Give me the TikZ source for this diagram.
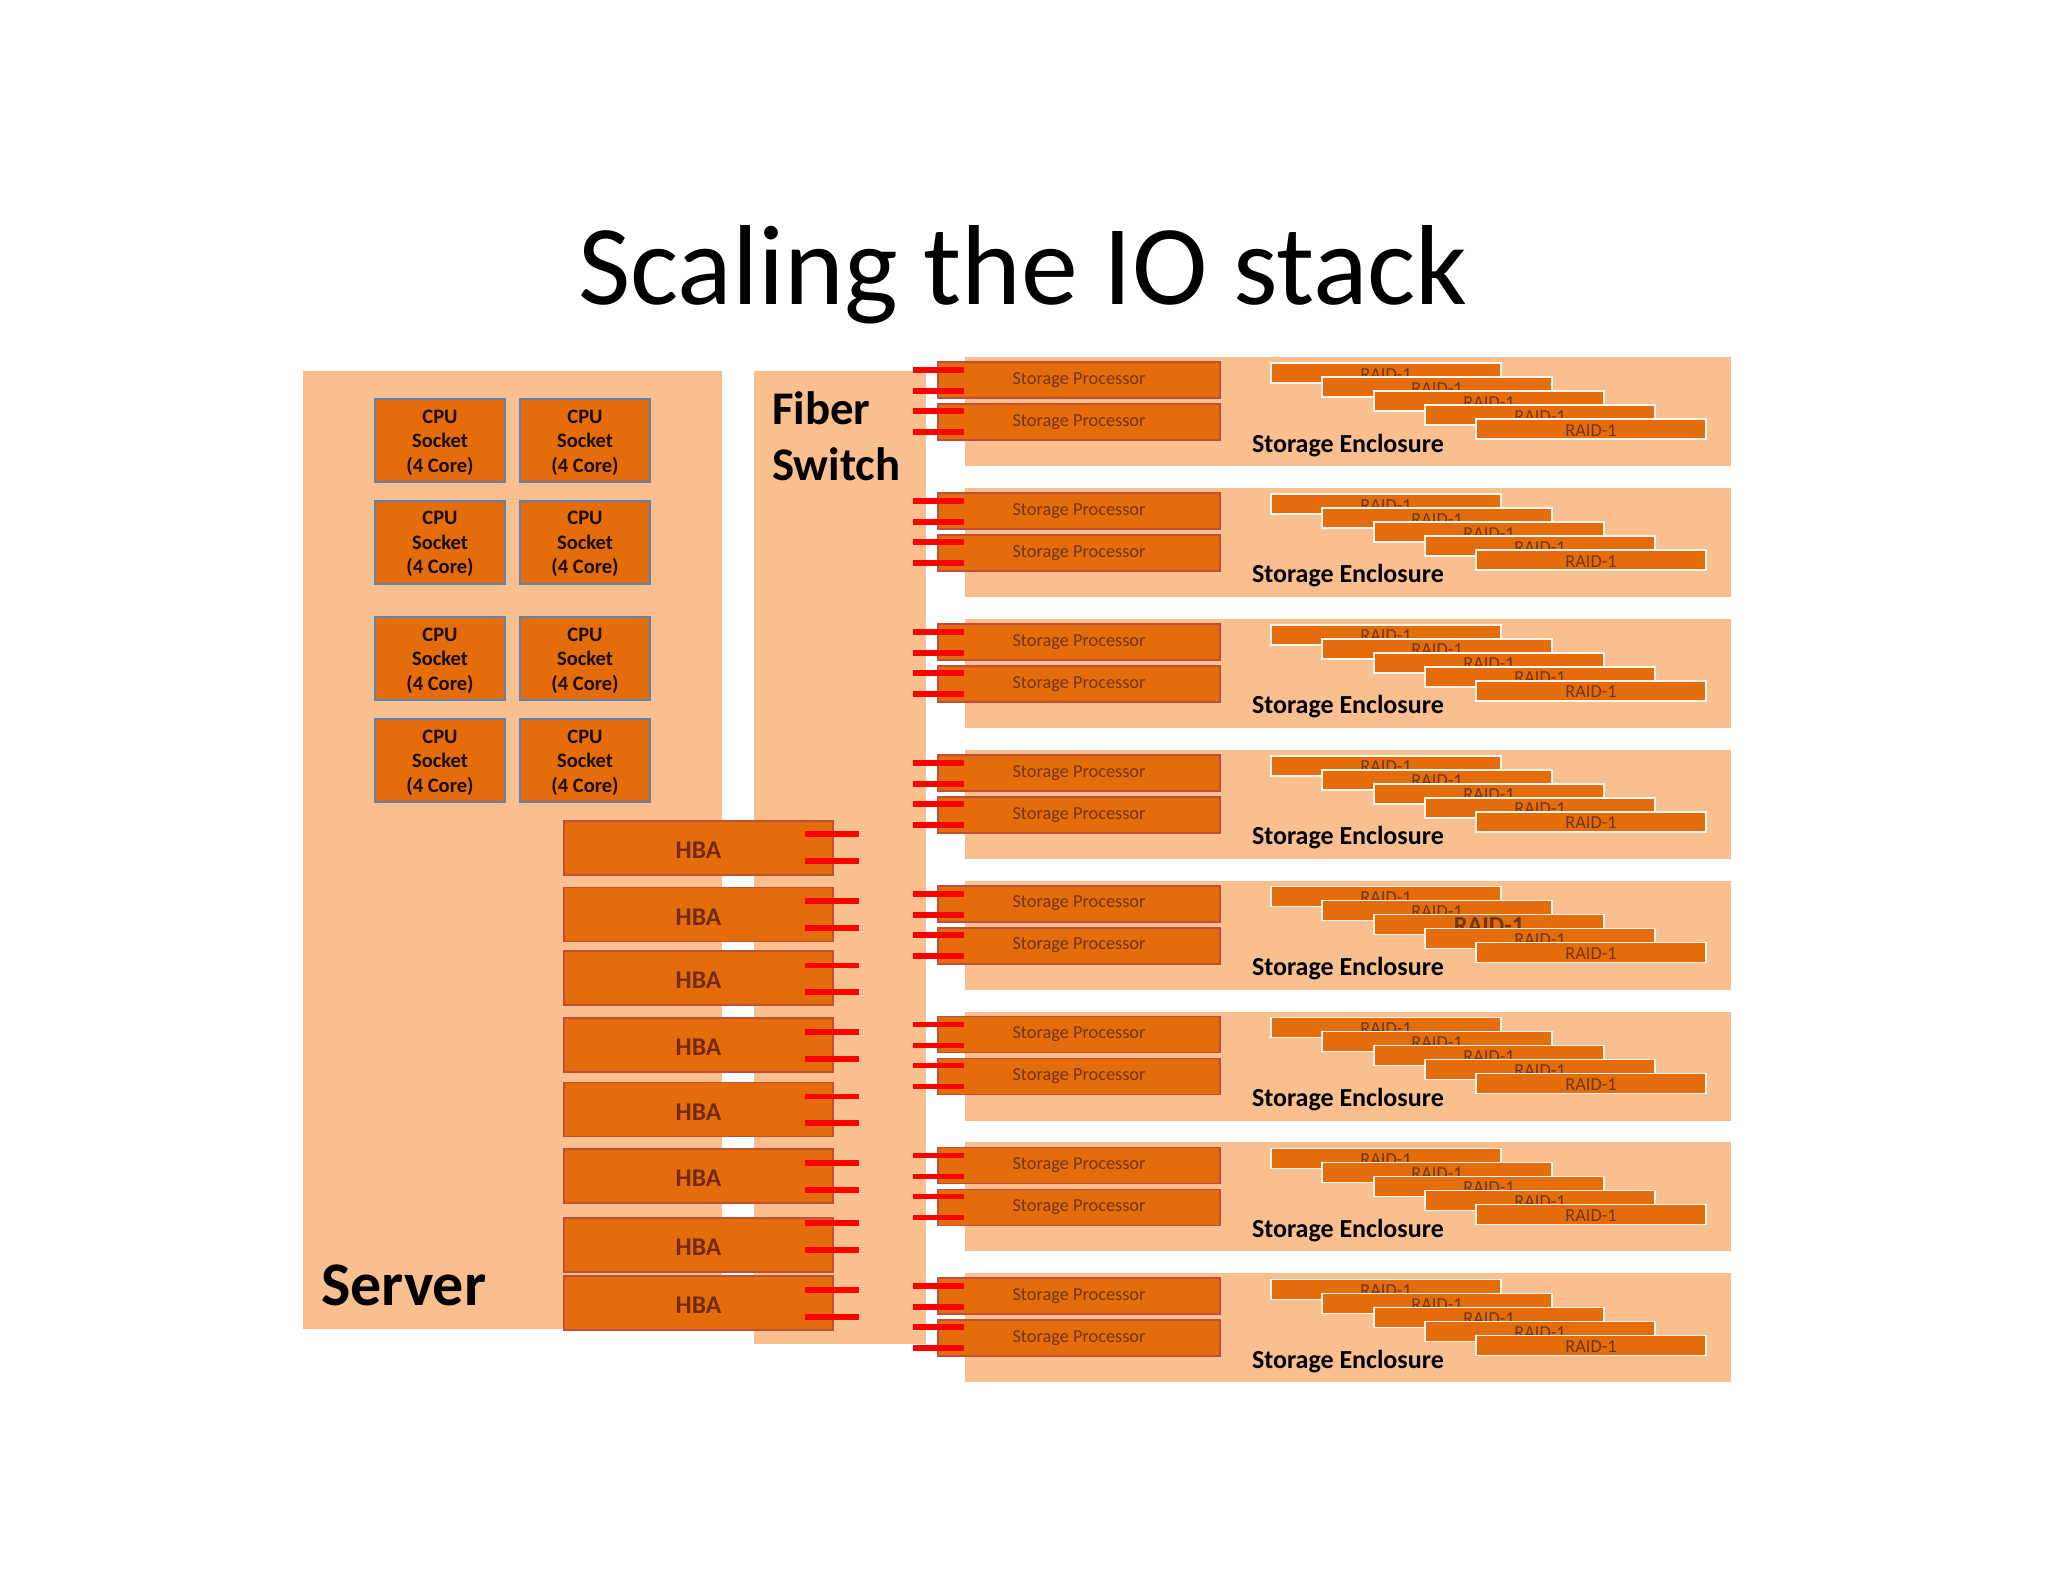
\documentclass[tikz,border=0pt]{standalone}
\usepackage{fontspec}
\setmainfont{Carlito}
\definecolor{panel}{HTML}{F9BF8F}
\definecolor{chip}{HTML}{E46C0A}
\definecolor{chipedge}{HTML}{BE4F3A}
\definecolor{cpuedge}{HTML}{5C83B4}
\definecolor{hbatext}{HTML}{742A10}
\definecolor{sptext}{HTML}{703610}
\tikzset{
  panelbox/.style={fill=panel,draw=none,inner sep=0pt,outer sep=0pt,anchor=north west},
  spbox/.style={fill=chip,draw=chipedge,line width=1.8pt,inner sep=0pt,outer sep=0pt,anchor=north west,
    minimum width=282pt,minimum height=36pt,text=sptext,font=\fontsize{18.3}{21}\selectfont},
  hbabox/.style={fill=chip,draw=chipedge,line width=1.8pt,inner sep=0pt,outer sep=0pt,anchor=north west,
    minimum width=269pt,minimum height=54pt,text=hbatext,text height=21.6pt,text depth=0pt,
    font=\fontsize{25.5}{30}\bfseries\selectfont},
  cpubox/.style={fill=chip,draw=cpuedge,line width=2pt,inner sep=0pt,outer sep=0pt,anchor=north west,
    minimum width=130pt,minimum height=83pt},
  cputext/.style={inner sep=0pt,outer sep=0pt,align=center,text=black!88!chip,
    font=\fontsize{20.5}{24.5}\bfseries\selectfont},
  raidbox/.style={fill=chip,draw=white!85!panel,line width=1.6pt,inner sep=0pt,outer sep=0pt,anchor=north west,
    minimum width=230pt,minimum height=20pt,text=sptext,text height=14.2pt,text depth=0pt,
    font=\fontsize{18.3}{20}\selectfont},
  port/.style={draw=red,line width=5.8pt},
  heading/.style={inner sep=0pt,outer sep=0pt,anchor=base west,text=black},
}
\begin{document}
\begin{tikzpicture}[x=1pt,y=-1pt]
\useasboundingbox (0,0) rectangle (2048,1582);
\fill[white] (0,0) rectangle (2048,1582);

\node[anchor=base,inner sep=0pt,font=\fontsize{113.8}{130}\selectfont] (title) at (1023,304) {Scaling the IO stack};

% Server and switch panels
\node[panelbox,minimum width=419pt,minimum height=958pt] (server) at (303,371) {};
\node[panelbox,minimum width=172pt,minimum height=972.5pt] (switch) at (754,371) {};
\node[heading,font=\fontsize{62}{70}\bfseries\selectfont] (serverlabel) at (321,1305) {Server};
\node[heading,font=\fontsize{46.8}{56}\bfseries\selectfont] (fiberlabel) at (772,424) {Fiber};
\node[heading,font=\fontsize{46.8}{56}\bfseries\selectfont] (switchlabel) at (772,480) {Switch};

% CPUs
\foreach \n/\x/\y in {a/375/399,b/520/399,c/375/500.5,d/520/500.5,e/375/617,f/520/617,g/375/719,h/520/719}{
  \node[cpubox] (cpu\n) at (\x,\y) {};
  \node[cputext] (cpulabel\n) at ([yshift=-2pt]cpu\n.center) {CPU\\Socket\\(4 Core)};
}

% Storage enclosures
\foreach \i in {0,...,7}{
  \pgfmathsetmacro{\t}{357+130.9*\i}
  \node[panelbox,minimum width=766pt,minimum height=109pt] (enc\i) at (965,\t) {};
  \node[spbox] (spa\i) at (938,\t+5) {Storage Processor};
  \node[spbox] (spb\i) at (938,\t+47) {Storage Processor};
  \foreach \k/\o/\s in {1/13/a,2/34/a,3/54/b,4/75/b}{
    \coordinate (pl\i-\k) at (913,\t+\o);
    \coordinate (pr\i-\k) at (964,\t+\o);
    \draw[port] (pl\i-\k) -- (pr\i-\k);
  }
  \node[heading,font=\fontsize{26}{30}\bfseries\selectfont] (enclabel\i) at (1252,\t+95) {Storage Enclosure};
  \node[raidbox] (raida\i) at (1271,\t+6) {RAID-1};
  \node[raidbox] (raidb\i) at (1322,\t+20) {RAID-1};
  \ifnum\i=4
    \node[raidbox,text height=17pt,font=\fontsize{24.5}{26}\bfseries\selectfont] (raidc\i) at (1374,\t+34) {RAID-1};
  \else
    \node[raidbox] (raidc\i) at (1374,\t+34) {RAID-1};
  \fi
  \node[raidbox] (raidd\i) at (1425,\t+48) {RAID-1};
  \node[raidbox] (raide\i) at (1476,\t+62) {RAID-1};
}

% HBAs and their ports
\foreach \i/\y/\p/\q in {1/821/834.3/861,2/887.5/901/927.9,3/951/965.4/992.1,4/1018/1032.1/1058.9,
  5/1082.5/1096.4/1123.2,6/1149/1163.2/1189.6,7/1218/1223.2/1250,8/1276/1290/1316.8}{
  \node[hbabox] (hba\i) at (564,\y) {HBA};
  \coordinate (hl\i) at (805,\p);
  \coordinate (hr\i) at (859,\p);
  \coordinate (il\i) at (805,\q);
  \coordinate (ir\i) at (859,\q);
  \draw[port] (hl\i) -- (hr\i);
  \draw[port] (il\i) -- (ir\i);
}
\end{tikzpicture}
\end{document}
